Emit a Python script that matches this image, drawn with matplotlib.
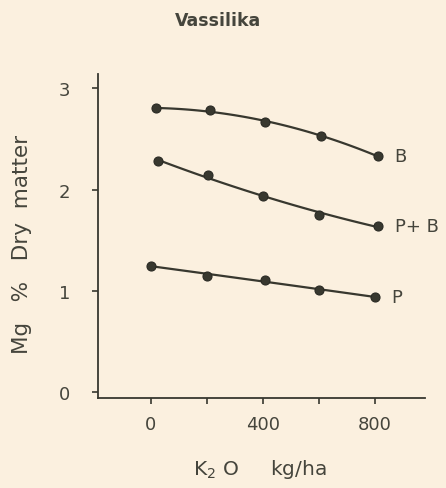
import numpy as np
import matplotlib
matplotlib.use("Agg")
import matplotlib.pyplot as plt

# Data
k2o_B = [17, 210, 406, 607, 810]
mg_B = [2.80, 2.78, 2.67, 2.53, 2.33]
k2o_PB = [24, 203, 400, 600, 812]
mg_PB = [2.28, 2.14, 1.94, 1.75, 1.64]
k2o_P = [0, 200, 406, 600, 800]
mg_P = [1.25, 1.15, 1.11, 1.01, 0.94]
series_names = ["B", "P+ B", "P"]

x_ticks = [0, 200, 400, 600, 800]
x_ticklabels = ["0", "", "400", "", "800"]
y_ticks = [0, 1, 2, 3]
y_ticklabels = ["0", "1", "2", "3"]

bg = "#fbf0df"
ink = "#38382f"
txt = "#45453c"

W, H = 446, 489
fig = plt.figure(figsize=(W / 100, H / 100), dpi=100, facecolor=bg)
ax = fig.add_axes([98 / W, 1 - 399 / H, (425 - 98) / W, (399 - 75) / H], facecolor=bg)

ax.set_xlim(-189, 979)
ax.set_ylim(-0.057, 3.14)

for xs, ys, name in [(k2o_B, mg_B, series_names[0]),
                     (k2o_PB, mg_PB, series_names[1]),
                     (k2o_P, mg_P, series_names[2])]:
    c = np.polyfit(xs, ys, 2)
    xx = np.linspace(xs[0], xs[-1], 100)
    ax.plot(xx, np.polyval(c, xx), color=ink, lw=1.6, solid_capstyle="round")
    ax.plot(xs, ys, "o", color=ink, ms=6.5, mec="#2a2a24", mew=0.8)
    ax.text(xs[-1] + 60, ys[-1], name, fontsize=13, color=txt,
            ha="left", va="center")

for s in ["top", "right"]:
    ax.spines[s].set_visible(False)
for s in ["left", "bottom"]:
    ax.spines[s].set_color(ink)
    ax.spines[s].set_linewidth(1.3)

ax.set_xticks(x_ticks)
ax.set_xticklabels(x_ticklabels)
ax.set_yticks(y_ticks)
ax.set_yticklabels(y_ticklabels)
ax.tick_params(axis="both", direction="out", length=4, width=1.2, color=ink,
               labelsize=13, labelcolor=txt)
ax.tick_params(axis="x", pad=8)
ax.tick_params(axis="y", pad=16)

fig.text(218 / W, 1 - 21 / H, "Vassilika", ha="center", va="center",
         fontsize=12.5, fontweight="bold", color=txt)
fig.text(22 / W, 1 - 244 / H, "Mg   %   Dry  matter", rotation=90,
         ha="center", va="center", fontsize=15.5, color=txt)
fig.text(260 / W, 1 - 470 / H, r"K$_2$ O     kg/ha", ha="center", va="center",
         fontsize=14.5, color=txt)

fig.savefig("out.png", dpi=100, facecolor=bg)
